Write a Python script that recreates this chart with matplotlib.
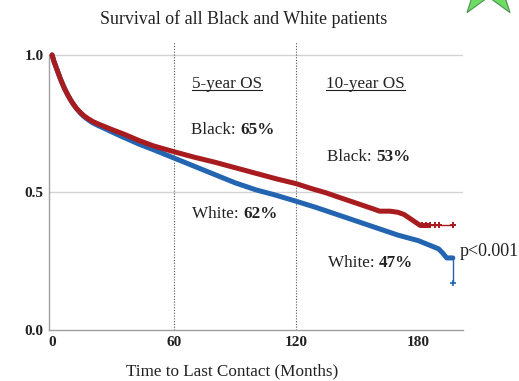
import matplotlib
matplotlib.use("Agg")
import matplotlib.pyplot as plt
from matplotlib.lines import Line2D
from matplotlib.patches import Polygon
import numpy as np

plt.rcParams['font.family'] = ['Liberation Serif', 'DejaVu Serif']

# Kaplan-Meier estimates (months, survival probability)
black_t = [0, 1, 2, 3, 4, 5, 6, 7, 8, 9, 10, 12, 14, 16, 18, 20, 23, 26, 30, 35,
           43, 50, 60, 70, 80, 90, 100, 110, 120, 128, 135, 140, 146, 152, 158,
           161, 166, 170, 173, 175, 177, 179, 181, 185, 190, 197]
black_s = [1.0, 0.975, 0.955, 0.935, 0.915, 0.897, 0.88, 0.865, 0.851, 0.838,
           0.826, 0.806, 0.79, 0.777, 0.767, 0.758, 0.748, 0.739, 0.727, 0.713,
           0.688, 0.669, 0.648, 0.628, 0.61, 0.59, 0.57, 0.55, 0.532, 0.513,
           0.498, 0.485, 0.47, 0.455, 0.44, 0.432, 0.432, 0.428, 0.42, 0.41,
           0.40, 0.39, 0.38, 0.38, 0.38, 0.38]
white_t = [0, 1, 2, 3, 4, 5, 6, 7, 8, 9, 10, 12, 14, 16, 18, 20, 23, 26, 30, 35,
           43, 50, 60, 70, 80, 90, 100, 110, 120, 130, 140, 150, 160, 170, 180,
           185, 190, 192, 194, 196, 197, 197]
white_s = [1.0, 0.975, 0.955, 0.935, 0.915, 0.897, 0.88, 0.865, 0.851, 0.838,
           0.826, 0.805, 0.788, 0.774, 0.763, 0.753, 0.742, 0.732, 0.718, 0.701,
           0.675, 0.655, 0.625, 0.595, 0.565, 0.535, 0.51, 0.49, 0.468, 0.445,
           0.42, 0.395, 0.37, 0.345, 0.325, 0.31, 0.295, 0.28, 0.262, 0.262,
           0.262, 0.17]

black_censor_t = [182, 184, 186, 188, 190, 197]
black_censor_s = [0.38, 0.38, 0.38, 0.38, 0.38, 0.38]

x_ticks = [0, 60, 120, 180]
y_ticks = [0.0, 0.5, 1.0]
milestones = [60, 120]

red = '#a81b1e'
blue = '#2365b0'

fig = plt.figure(figsize=(5.19, 3.81), dpi=100)
ax = fig.add_axes([49 / 519, 51 / 381, (463 - 49) / 519, (330 - 42) / 381])
ax.set_xlim(-1.5, 202)
ax.set_ylim(0, 1.047)

# reference lines
for y in [0.5, 1.0]:
    ax.axhline(y, color='#d2d2d2', lw=1.0, zorder=1)
for m in milestones:
    ax.axvline(m, color='#555555', lw=0.8, ls=(0, (1, 1.5)), zorder=1)

# survival curves
ax.plot(white_t[:-1], white_s[:-1], color=blue, lw=3.6, solid_capstyle='round',
        solid_joinstyle='round', zorder=3)
ax.plot(white_t[-2:], white_s[-2:], color=blue, lw=1.0, zorder=3)
ax.plot(white_t[-1:], white_s[-1:], marker='+', color=blue, ms=5, mew=1.2, zorder=3)
ax.plot(black_t[:-2], black_s[:-2], color=red, lw=3.6, solid_capstyle='round',
        solid_joinstyle='round', zorder=4)
ax.plot(black_t[-4:], black_s[-4:], color=red, lw=1.0, zorder=4)
ax.plot(black_censor_t, black_censor_s, ls='none', marker='+', color=red, ms=5,
        mew=1.4, zorder=4)

# axes styling
for side in ['top', 'right']:
    ax.spines[side].set_visible(False)
for side in ['left', 'bottom']:
    ax.spines[side].set_color('#a0a0a0')
    ax.spines[side].set_linewidth(1.0)
ax.spines['left'].set_bounds(0, 1.0)
ax.set_xticks(x_ticks)
ax.set_yticks(y_ticks)
ax.set_yticklabels(['%.1f' % v for v in y_ticks])
ax.tick_params(length=0, labelsize=11, pad=4, labelcolor='#222222')
for lbl in ax.get_xticklabels() + ax.get_yticklabels():
    lbl.set_fontweight('bold')

fs = 12.3

def label_pair(x, y, plain, bold):
    t1 = ax.text(x, y, plain, fontsize=fs, ha='left', va='center', color='#222222')
    ax.annotate(bold, xy=(1, 0.5), xycoords=t1, ha='left', va='center',
                fontsize=fs, fontweight='bold', color='#222222')

headers = [(68.9, 0.895, '5-year OS'), (134.8, 0.895, '10-year OS')]
header_texts = []
for hx, hy, s in headers:
    header_texts.append(ax.text(hx, hy, s, fontsize=fs, ha='left', va='center', color='#222222'))

label_pair(68.4, 0.727, 'Black: ', '65%')
label_pair(135.2, 0.629, 'Black: ', '53%')
label_pair(68.9, 0.422, 'White: ', '62%')
label_pair(135.7, 0.244, 'White: ', '47%')

ax.text(200.5, 0.284, 'p<0.001', fontsize=13, ha='left', va='center',
        color='#222222', clip_on=False)

fig.text(244 / 519, 1 - 19 / 381, 'Survival of all Black and White patients',
         fontsize=12.9, ha='center', va='center', color='#222222')
fig.text(232 / 519, 1 - 371 / 381, 'Time to Last Contact (Months)',
         fontsize=12.3, ha='center', va='center', color='#222222')

# underline the column headers
fig.canvas.draw()
renderer = fig.canvas.get_renderer()
inv = fig.transFigure.inverted()
for t in header_texts:
    bb = t.get_window_extent(renderer)
    (x0, y0), (x1, _) = inv.transform([(bb.x0, bb.y0 + 2), (bb.x1, bb.y0 + 2)])
    fig.add_artist(Line2D([x0, x1], [y0, y0], transform=fig.transFigure,
                          color='#222222', lw=0.8))

# green star badge, partly outside the top edge
cx, cy, R = 488.5, 381 + 17, 36.6
r_in = R * 0.382
pts = []
for k in range(10):
    ang = np.deg2rad(90 + 36 * k)
    rad = R if k % 2 == 0 else r_in
    pts.append(((cx + rad * np.cos(ang)) / 519, (cy + rad * np.sin(ang)) / 381))
fig.add_artist(Polygon(pts, closed=True, transform=fig.transFigure,
                       facecolor='#6cdc62', edgecolor='#4f8f5a', lw=0.8))

fig.savefig('out.png', dpi=100)
